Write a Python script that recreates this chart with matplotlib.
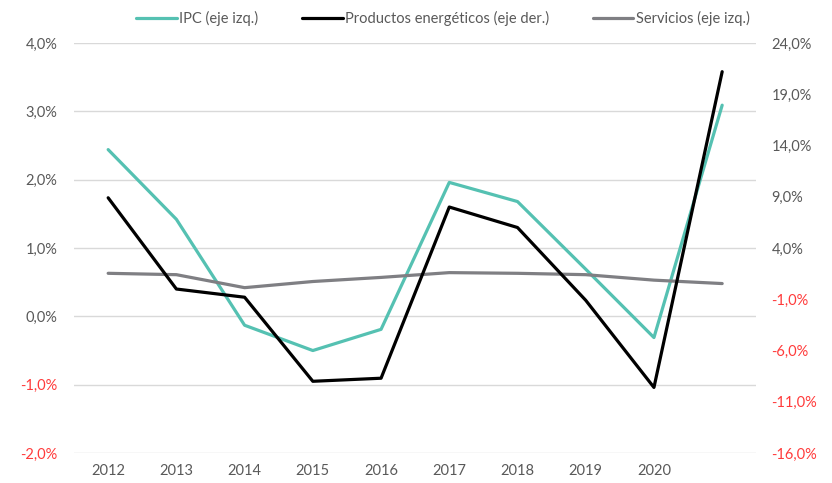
import matplotlib.pyplot as plt
import numpy as np

# Datos
years = ['2012', '2013', '2014', '2015', '2016', '2017', '2018', '2019', '2020', '']
ipc = [2.44, 1.42, -0.13, -0.50, -0.19, 1.96, 1.68, 0.69, -0.31, 3.09]
energeticos = [8.9, 0.0, -0.8, -9.0, -8.7, 8.0, 6.0, -1.1, -9.6, 21.2]
servicios = [0.63, 0.61, 0.42, 0.51, 0.57, 0.64, 0.63, 0.61, 0.53, 0.48]

left_ticks = [-2, -1, 0, 1, 2, 3, 4]
right_ticks = [-16, -11, -6, -1, 4, 9, 14, 19, 24]

plt.rcParams['font.family'] = ['Lato', 'DejaVu Sans']

c_ipc = '#55C1B2'
c_ene = '#000000'
c_serv = '#7F7F83'
c_txt = '#595959'
c_red = '#FF3B3B'

fig = plt.figure(figsize=(8.32, 4.83), dpi=100)
ax = fig.add_axes([0.089, 0.062, 0.82, 0.849])
ax2 = ax.twinx()

x = np.arange(len(years))
l1, = ax.plot(x, ipc, color=c_ipc, lw=2.3, solid_capstyle='round', label='IPC (eje izq.)')
l3, = ax.plot(x, servicios, color=c_serv, lw=2.3, solid_capstyle='round', label='Servicios (eje izq.)')
l2, = ax2.plot(x, energeticos, color=c_ene, lw=2.3, solid_capstyle='round', label='Productos energéticos (eje der.)')

ax.set_xlim(-0.5, len(years) - 0.5)
ax.set_ylim(-2, 4)
ax2.set_ylim(-16, 24)
ax.set_yticks(left_ticks)
ax2.set_yticks(right_ticks)
ax.set_yticklabels([f'{v:.1f}%'.replace('.', ',') for v in left_ticks])
ax2.set_yticklabels([f'{v:.1f}%'.replace('.', ',') for v in right_ticks])
ax.set_xticks(x)
ax.set_xticklabels(years)

ax.grid(axis='y', color='#D9D9D9', lw=1)
ax.set_axisbelow(True)
for a in (ax, ax2):
    for s in a.spines.values():
        s.set_visible(False)
    a.tick_params(length=0, labelsize=10.5, colors=c_txt)
ax.tick_params(axis='y', pad=12)
ax.tick_params(axis='x', pad=8)
ax2.tick_params(axis='y', pad=11)

for lab, v in zip(ax.get_yticklabels(), left_ticks):
    if v < 0:
        lab.set_color(c_red)
for lab, v in zip(ax2.get_yticklabels(), right_ticks):
    if v < 0:
        lab.set_color(c_red)

fig.legend(handles=[l1, l2, l3], loc='upper center', bbox_to_anchor=(0.532, 1.005), ncol=3,
           frameon=False, fontsize=10.5, handlelength=2.8, handletextpad=0.15, columnspacing=3.0,
           labelcolor=c_txt)

fig.savefig('out.png', dpi=100)
